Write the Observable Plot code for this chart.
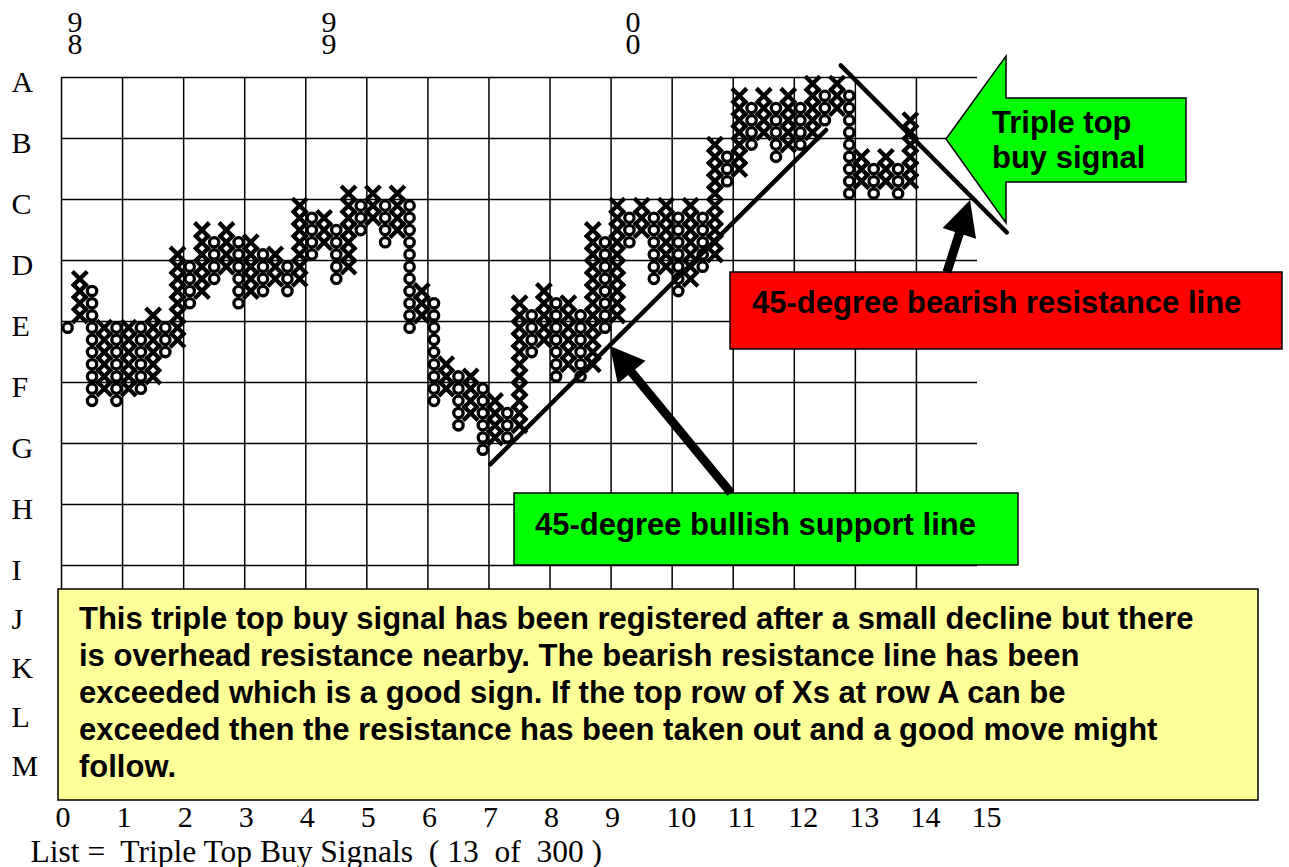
<!DOCTYPE html>
<html>
<head>
<meta charset="utf-8">
<script src="https://cdn.jsdelivr.net/npm/d3@7"></script>
<script src="https://cdn.jsdelivr.net/npm/@observablehq/plot@0.6"></script>
<style>
html, body { margin: 0; padding: 0; background: #fff; }
#chart svg { display: block; }
</style>
</head>
<body>
<div id="chart"></div>
<script>
// ---- Point & figure columns (box levels; A line = 60, each grid row = 5 boxes) ----
const colType = ["O","X","O","X","O","X","O","X","O","X",
                 "O","X","O","X","O","X","O","X","O","X",
                 "O","X","O","X","O","X","O","X","O","X",
                 "O","X","O","X","O","X","O","X","O","X",
                 "O","X","O","X","O","X","O","X","O","X",
                 "O","X","O","X","O","X","O","X","O","X",
                 "O","X","O","X","O","X","O","X","O","X"];
const colLow  = [39,40,33,34,33,34,34,35,37,38,
                 41,42,43,44,41,42,42,43,42,43,
                 45,46,43,44,47,48,46,47,39,40,
                 33,34,31,32,29,30,30,31,37,38,
                 35,36,35,36,39,40,46,47,43,44,
                 42,43,44,45,51,52,54,55,53,54,
                 54,55,56,57,50,51,50,51,50,51];
const colHigh = [39,43,42,39,39,39,39,40,39,45,
                 44,47,46,47,46,46,45,45,44,49,
                 48,48,47,50,49,50,49,50,49,42,
                 41,36,35,35,34,33,32,41,40,42,
                 41,41,40,47,46,49,48,49,48,49,
                 48,49,48,54,53,58,57,58,57,58,
                 57,59,58,59,58,53,52,53,52,56];

// ---- axis labels ----
const rowLabels = ["A","B","C","D","E","F","G","H","I","J","K","L","M"];
const rowLevels = [60,55,50,45,40,35,30,25,20,16,12,8,4];
const xTickLabels = ["0","1","2","3","4","5","6","7","8","9","10","11","12","13","14","15"];
const xTickPos = [0,5,10,15,20,25,30,35,40,45,50,55,60,65,70,75];
const gridCols = [0,5,10,15,20,25,30,35,40,45,50,55,60,65,70];
const yearLabels = ["9\n8","9\n9","0\n0"];
const yearPos = [1.1, 21.9, 46.8];
const caption = "List =\u00a0 Triple Top Buy Signals\u00a0 ( 13\u00a0 of\u00a0 300 )";

// ---- trend lines (column units, box levels) ----
const bullX = [35.1, 62.6];
const bullY = [28.3, 55.7];
const bearX = [63.8, 77.4];
const bearY = [61.0, 47.3];

// ---- annotation texts ----
const signalText = ["Triple top", "buy signal"];
const bearText = "45-degree bearish resistance line";
const bullText = "45-degree bullish support line";
const noteLines = [
  "This triple top buy signal has been registered after a small decline but there",
  "is overhead resistance nearby. The bearish resistance line has been",
  "exceeded which is a good sign. If the top row of Xs at row A can be",
  "exceeded then the resistance has been taken out and a good move might",
  "follow."
];

const boxes = colType.flatMap((t, c) =>
  d3.range(colLow[c], colHigh[c] + 1).map(n => ({t, x: c + 0.5, y: n + 0.5})));

const serif = "Liberation Serif, Times New Roman, serif";

const chart = Plot.plot({
  width: 1289,
  height: 867,
  marginLeft: 61,
  marginRight: 312,
  marginTop: 40.4,
  marginBottom: 67,
  x: {domain: [0, 75], axis: null},
  y: {domain: [0.75, 63], axis: null},
  style: {background: "white"},
  marks: [
    Plot.ruleX(gridCols, {y1: 0.75, y2: 60, stroke: "#000", strokeWidth: 1.5}),
    Plot.ruleY(rowLevels, {x1: 0, x2: 75, stroke: "#000", strokeWidth: 1.5}),
    Plot.dot(boxes.filter(d => d.t === "X"), {x: "x", y: "y", symbol: "times", r: 6.8, stroke: "#000", strokeWidth: 4.3}),
    Plot.dot(boxes.filter(d => d.t === "O"), {x: "x", y: "y", r: 4.7, stroke: "#000", strokeWidth: 3.3, fill: "#fff"}),
    Plot.line(bullX.map((x, i) => [x, bullY[i]]), {stroke: "#000", strokeWidth: 4.5}),
    Plot.line(bearX.map((x, i) => [x, bearY[i]]), {stroke: "#000", strokeWidth: 4.5}),
    Plot.text(rowLabels, {y: (d, i) => rowLevels[i], frameAnchor: "left", dx: -50, dy: 14.7,
      textAnchor: "start", lineAnchor: "bottom", fontFamily: serif, fontSize: 30, fill: "#000"}),
    Plot.text(xTickLabels, {x: (d, i) => xTickPos[i], frameAnchor: "bottom", dx: -6, dy: 26.7,
      textAnchor: "start", lineAnchor: "bottom", fontFamily: serif, fontSize: 30, fill: "#000"}),
    Plot.text(yearLabels, {x: (d, i) => yearPos[i], frameAnchor: "top", dy: 12.6,
      lineAnchor: "bottom", lineHeight: 0.72, fontFamily: serif, fontSize: 30, fill: "#000"}),
    Plot.text([caption], {frameAnchor: "bottom-left", dx: -31, dy: 61,
      textAnchor: "start", lineAnchor: "bottom", fontFamily: serif, fontSize: 31.5, fill: "#000"})
  ]
});

// ---- callouts (pixel layout) ----
const svg = d3.select(chart);
const ann = svg.append("g").attr("text-anchor", "start");
const sans = "Liberation Sans, Arial, Helvetica, sans-serif";

function blockArrow(x1, y1, x2, y2, shaft, headLen, headW) {
  const dx = x2 - x1, dy = y2 - y1, L = Math.hypot(dx, dy);
  const ux = dx / L, uy = dy / L, px = -uy, py = ux;
  const bx = x2 - ux * headLen, by = y2 - uy * headLen;
  const pts = [
    [x1 + px * shaft / 2, y1 + py * shaft / 2],
    [bx + px * shaft / 2, by + py * shaft / 2],
    [bx + px * headW / 2, by + py * headW / 2],
    [x2, y2],
    [bx - px * headW / 2, by - py * headW / 2],
    [bx - px * shaft / 2, by - py * shaft / 2],
    [x1 - px * shaft / 2, y1 - py * shaft / 2]
  ];
  ann.append("polygon").attr("points", pts.map(p => p.join(",")).join(" ")).attr("fill", "#000");
}
function box(x, y, w, h, fill) {
  ann.append("rect").attr("x", x).attr("y", y).attr("width", w).attr("height", h)
    .attr("fill", fill).attr("stroke", "#000").attr("stroke-width", 1.5);
}
function label(x, y, s) {
  ann.append("text").attr("x", x).attr("y", y).attr("text-anchor", "start")
    .attr("font-family", sans).attr("font-weight", "bold").attr("font-size", 31)
    .attr("fill", "#000").text(s);
}

// yellow note
box(58, 589, 1200, 211, "#FFFF99");
noteLines.forEach((s, i) => label(79, 629 + i * 37, s));

// red bearish label + arrow
box(730, 272, 552, 77, "#FF0000");
label(752, 313, bearText);
blockArrow(947, 272, 970, 200, 9, 35, 35);

// green bullish label + arrow
box(514, 493, 504, 72, "#00FF00");
label(535, 535, bullText);
blockArrow(731, 493, 610, 346, 9, 34, 36);

// green block arrow "Triple top buy signal"
ann.append("polygon")
  .attr("points", [[946,139],[1006,56],[1006,98],[1186,98],[1186,182],[1006,182],[1006,223]].map(p => p.join(",")).join(" "))
  .attr("fill", "#00FF00").attr("stroke", "#000").attr("stroke-width", 1.5);
signalText.forEach((s, i) => label(992, 133 + i * 35, s));

document.getElementById("chart").appendChild(chart);
</script>
</body>
</html>
